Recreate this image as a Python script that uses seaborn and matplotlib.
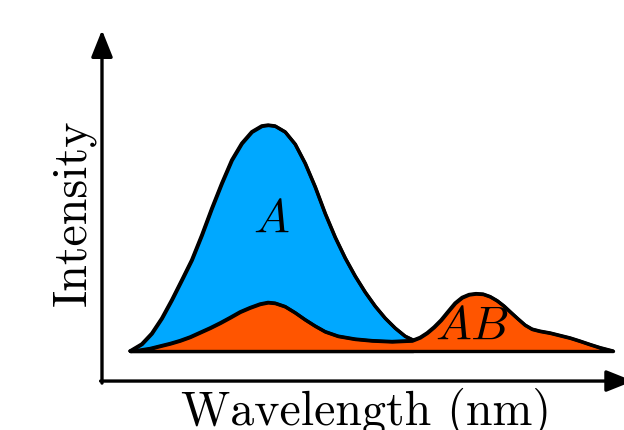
import numpy as np
import matplotlib
matplotlib.use("Agg")
import matplotlib.pyplot as plt
from matplotlib.patches import ArrowStyle
import seaborn as sns

# ── Data (arbitrary units) ───────────────────────────────────────────
wavelength_a = [0.0, 2.43, 4.50, 6.58, 8.65, 10.73, 12.80, 14.88, 16.95,
                19.02, 21.10, 23.17, 25.25, 27.32, 28.63, 30.08, 32.16,
                34.23, 36.31, 38.38, 40.46, 42.53, 44.61, 46.68, 48.76,
                50.83, 52.90, 54.98, 57.05, 58.71]
intensity_a = [0.0, 0.031, 0.078, 0.145, 0.226, 0.314, 0.403, 0.513, 0.631,
               0.742, 0.845, 0.919, 0.970, 0.996, 1.0, 0.996, 0.970, 0.916,
               0.831, 0.727, 0.609, 0.504, 0.412, 0.332, 0.261, 0.199, 0.146,
               0.102, 0.066, 0.049]

wavelength_ab = [0.0, 2.07, 4.15, 6.22, 8.30, 10.37, 12.45, 14.52, 16.60,
                 18.67, 20.75, 22.82, 24.90, 26.97, 28.63, 30.08, 32.16,
                 34.23, 36.31, 38.38, 40.46, 43.15, 46.68, 50.21, 54.36,
                 58.51, 60.17, 61.62, 63.07, 64.52, 65.98, 67.43, 68.88,
                 70.33, 71.78, 73.24, 74.69, 76.14, 77.59, 79.05, 80.50,
                 81.95, 83.40, 85.06, 87.14, 89.21, 91.29, 93.36, 95.44,
                 97.51, 100.21]
intensity_ab = [0.0, 0.004, 0.011, 0.022, 0.033, 0.046, 0.062, 0.082, 0.102,
                0.124, 0.148, 0.173, 0.192, 0.208, 0.215, 0.212, 0.197, 0.170,
                0.139, 0.111, 0.086, 0.066, 0.053, 0.046, 0.042, 0.046, 0.060,
                0.080, 0.106, 0.137, 0.175, 0.212, 0.237, 0.250, 0.254, 0.252,
                0.241, 0.223, 0.199, 0.170, 0.142, 0.115, 0.097, 0.088, 0.080,
                0.069, 0.058, 0.044, 0.029, 0.015, 0.0]

BLUE = "#00A8FF"
ORANGE = "#FF5500"
LW = 2.4

sns.set_theme(style="white")
plt.rcParams["mathtext.fontset"] = "cm"
plt.rcParams["text.color"] = "black"

fig = plt.figure(figsize=(6.24, 4.30), dpi=100)
ax = fig.add_axes([0, 0, 1, 1])
ax.set_xlim(-26.97, 102.49)
ax.set_ylim(-0.3496, 1.5531)
ax.axis("off")

# ── Curve A (blue) ───────────────────────────────────────────────────
ax.fill_between(wavelength_a, intensity_a, 0, facecolor=BLUE,
                edgecolor="black", linewidth=LW, joinstyle="round")
sns.lineplot(x=wavelength_a, y=intensity_a, color="black", linewidth=LW,
             solid_joinstyle="round", solid_capstyle="round", ax=ax)

# ── Curve AB (orange) ────────────────────────────────────────────────
ax.fill_between(wavelength_ab, intensity_ab, 0, facecolor=ORANGE,
                edgecolor="black", linewidth=LW, joinstyle="round")
sns.lineplot(x=wavelength_ab, y=intensity_ab, color="black", linewidth=LW,
             solid_joinstyle="round", solid_capstyle="round", ax=ax)

# ── Axis arrows ──────────────────────────────────────────────────────
head = ArrowStyle("-|>", head_length=0.4, head_width=0.16)
ax.annotate("", xy=(-5.81, 1.42), xytext=(-5.81, -0.142),
            arrowprops=dict(arrowstyle=head, mutation_scale=41, lw=2.4,
                            color="black", shrinkA=0, shrinkB=0))
ax.annotate("", xy=(104.4, -0.133), xytext=(-6.1, -0.133),
            arrowprops=dict(arrowstyle=head, mutation_scale=41, lw=2.4,
                            color="black", shrinkA=0, shrinkB=0),
            annotation_clip=False)

# ── Labels ───────────────────────────────────────────────────────────
ax.text(-11.6, 0.611, "Intensity", rotation=90, ha="center", va="center",
        fontsize=34.5, family="cmr10", color="black")
ax.text(49.0, -0.327, "Wavelength (nm)", ha="center", va="baseline",
        fontsize=34.5, family="cmr10", color="black")
ax.text(29.3, 0.588, "$A$", ha="center", va="center", fontsize=34.5,
        color="black")
ax.text(71.0, 0.115, "$AB$", ha="center", va="center", fontsize=34.5,
        color="black")

fig.savefig("out.png", dpi=100)
